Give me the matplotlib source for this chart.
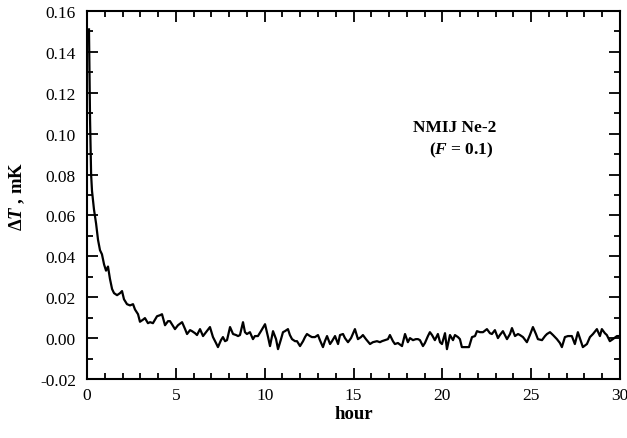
import matplotlib
matplotlib.use("Agg")
import matplotlib.pyplot as plt
from matplotlib.ticker import MultipleLocator

hours = [0.11, 0.17, 0.23, 0.28, 0.39, 0.51, 0.62, 0.73, 0.84, 0.96, 1.07, 1.18, 1.29, 1.41, 1.52,
         1.69, 1.86, 1.97, 2.08, 2.25, 2.42, 2.59, 2.70, 2.87, 2.98, 3.15, 3.26, 3.43, 3.55, 3.71,
         3.94, 4.11, 4.22, 4.39, 4.56, 4.67, 4.84, 4.95, 5.12, 5.35, 5.52, 5.63, 5.80, 5.91, 6.08,
         6.19, 6.36, 6.53, 6.70, 6.92, 7.09, 7.26, 7.37, 7.54, 7.65, 7.77, 7.88, 8.05, 8.22, 8.39,
         8.50, 8.61, 8.78, 8.89, 9.00, 9.17, 9.34, 9.45, 9.62, 9.79, 10.02, 10.19, 10.30, 10.47, 10.64,
         10.75, 10.92, 11.03, 11.14, 11.31, 11.42, 11.54, 11.71, 11.82, 11.99, 12.16, 12.27, 12.38, 12.55, 12.66,
         12.83, 13.00, 13.11, 13.28, 13.39, 13.51, 13.68, 13.79, 13.96, 14.13, 14.24, 14.41, 14.52, 14.69, 14.86,
         15.08, 15.25, 15.42, 15.53, 15.70, 15.93, 16.09, 16.32, 16.49, 16.60, 16.77, 16.94, 17.05, 17.22, 17.33,
         17.50, 17.73, 17.90, 18.06, 18.18, 18.35, 18.51, 18.63, 18.74, 18.91, 19.02, 19.19, 19.30, 19.42, 19.58,
         19.75, 19.87, 19.98, 20.15, 20.26, 20.43, 20.60, 20.71, 20.88, 20.99, 21.10, 21.27, 21.50, 21.67, 21.84,
         21.95, 22.12, 22.29, 22.51, 22.68, 22.79, 22.96, 23.13, 23.24, 23.41, 23.64, 23.81, 23.92, 24.09, 24.26,
         24.37, 24.54, 24.76, 24.93, 25.10, 25.27, 25.38, 25.61, 25.78, 25.89, 26.06, 26.23, 26.45, 26.62, 26.73,
         26.90, 27.07, 27.29, 27.46, 27.63, 27.80, 27.91, 28.14, 28.31, 28.48, 28.70, 28.87, 28.98, 29.15, 29.26,
         29.43, 29.60, 29.83, 30.00]

delta_T = [0.151, 0.107, 0.080, 0.072, 0.063, 0.056, 0.048, 0.043, 0.041, 0.036, 0.033, 0.035, 0.029, 0.024, 0.022,
           0.021, 0.022, 0.023, 0.019, 0.0166, 0.016, 0.0166, 0.014, 0.0117, 0.008, 0.009, 0.0098, 0.0073, 0.0078, 0.0073,
           0.0107, 0.0112, 0.0117, 0.0063, 0.0083, 0.0083, 0.0059, 0.0044, 0.0063, 0.0078, 0.0044, 0.002, 0.0039, 0.0034, 0.0024,
           0.0015, 0.0044, 0.001, 0.0029, 0.0054, 0.0005, -0.0024, -0.0044, -0.001, 0.0005, -0.0015, -0.001, 0.0054, 0.002, 0.0015,
           0.001, 0.0015, 0.0078, 0.0029, 0.002, 0.0029, -0.0005, 0.001, 0.001, 0.0034, 0.0068, 0.0005, -0.0039, 0.0034, -0.0005,
           -0.0054, -0.0005, 0.0029, 0.0034, 0.0044, 0.0015, -0.0005, -0.0015, -0.0015, -0.0039, -0.0015, 0.0005, 0.002, 0.001, 0.0005,
           0.0005, 0.0015, -0.001, -0.0044, -0.0015, 0.001, -0.0029, -0.0015, 0.001, -0.0029, 0.0015, 0.002, 0.0, -0.002, 0.0,
           0.0044, -0.0005, 0.0005, 0.0015, -0.0005, -0.0029, -0.002, -0.0015, -0.002, -0.0015, -0.001, -0.0005, 0.0015, -0.0015, -0.0029,
           -0.0024, -0.0039, 0.002, -0.002, 0.0, -0.001, -0.0005, -0.0005, -0.001, -0.0039, -0.0024, 0.001, 0.0029, 0.0015, -0.001,
           0.002, -0.002, -0.0029, 0.0024, -0.0054, 0.0015, -0.001, 0.0015, 0.0005, -0.0005, -0.0044, -0.0044, -0.0044, 0.0005, 0.001,
           0.0034, 0.0029, 0.0029, 0.0044, 0.0024, 0.002, 0.0039, 0.0, 0.0015, 0.0034, -0.0005, 0.002, 0.0049, 0.001, 0.002,
           0.0015, 0.0005, -0.002, 0.0015, 0.0054, 0.002, -0.0005, -0.001, 0.001, 0.002, 0.0029, 0.0015, -0.0005, -0.0024, -0.0044,
           0.0005, 0.001, 0.001, -0.0029, 0.0029, -0.0015, -0.0044, -0.0029, 0.0005, 0.002, 0.0044, 0.001, 0.0044, 0.0024, 0.0015,
           -0.0015, -0.0005, 0.001, 0.001]

x_ticks = [0, 5, 10, 15, 20, 25, 30]
y_ticks = [-0.02, 0.00, 0.02, 0.04, 0.06, 0.08, 0.10, 0.12, 0.14, 0.16]

plt.rcParams['font.family'] = ['Liberation Serif', 'DejaVu Serif']
plt.rcParams['mathtext.fontset'] = 'custom'
plt.rcParams['mathtext.rm'] = 'Liberation Serif'
plt.rcParams['mathtext.it'] = 'Liberation Serif:italic:bold'
plt.rcParams['mathtext.bf'] = 'Liberation Serif:bold'

fig = plt.figure(figsize=(6.27, 4.39), dpi=100)
ax = fig.add_axes([0.1388, 0.1344, 0.85, 0.8383])

ax.plot(hours, delta_T, color='black', lw=1.6)

ax.set_xlim(0, 30)
ax.set_ylim(-0.02, 0.16)
ax.set_xticks(x_ticks)
ax.set_xticklabels([str(v) for v in x_ticks])
ax.set_yticks(y_ticks)
ax.set_yticklabels(["%.2f" % v for v in y_ticks])
ax.xaxis.set_minor_locator(MultipleLocator(1))
ax.yaxis.set_minor_locator(MultipleLocator(0.01))
ax.tick_params(which='both', direction='in', top=True, right=True, labelsize=12.5, width=1.3)
ax.tick_params(which='major', length=8)
ax.tick_params(which='minor', length=4.5)
ax.tick_params(axis='x', pad=6)
ax.tick_params(axis='y', pad=8)
for s in ax.spines.values():
    s.set_linewidth(1.5)

ax.set_xlabel('hour', fontsize=13.5, fontweight='bold', labelpad=1)
ax.set_ylabel(r'$\mathbf{\Delta}\mathit{T}$ , mK', fontsize=13.5, fontweight='bold', labelpad=9)

ax.text(0.69, 0.685, 'NMIJ Ne-2', transform=ax.transAxes, fontsize=12.5, fontweight='bold', ha='center', va='center')
ax.text(0.702, 0.625, r'($\mathit{F}$ = 0.1)', transform=ax.transAxes, fontsize=12.5, fontweight='bold', ha='center', va='center')

fig.savefig('out.png', dpi=100)
